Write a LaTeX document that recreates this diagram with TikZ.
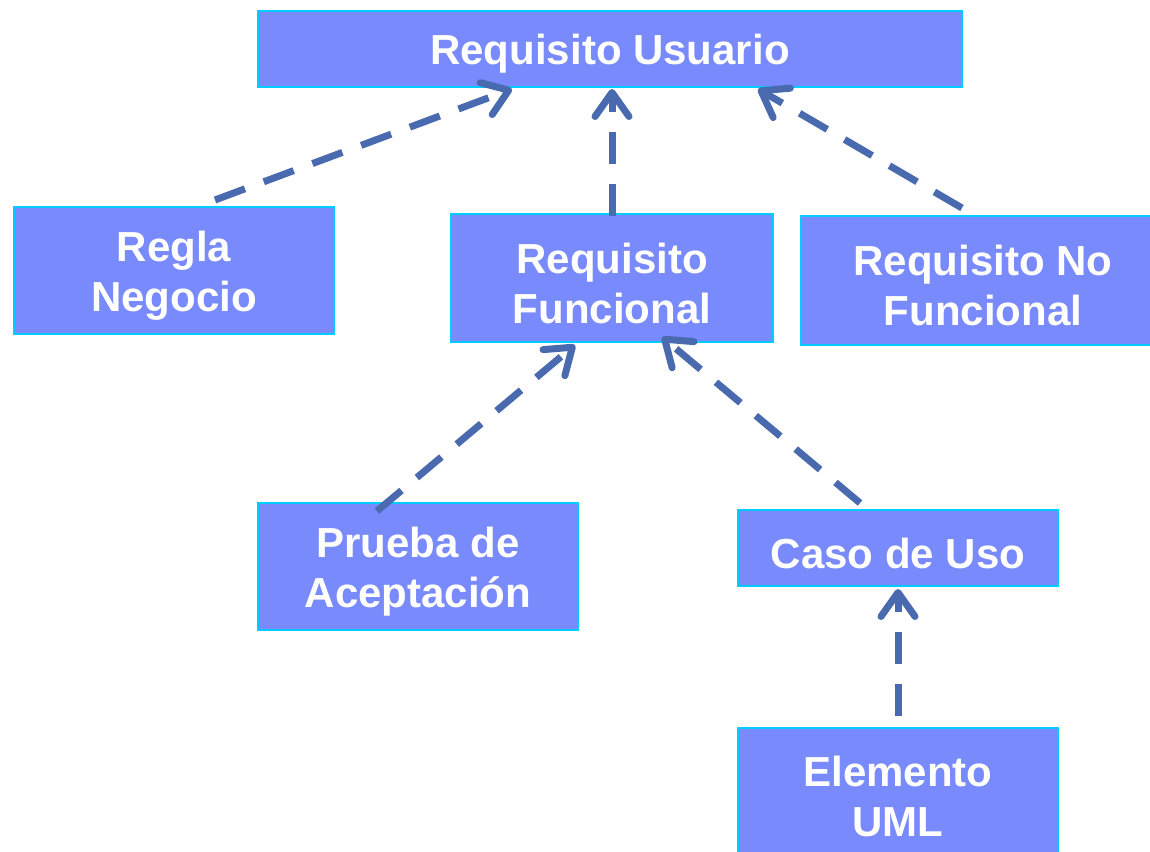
\documentclass[tikz,border=0pt]{standalone}
\usepackage{fontspec}
\setmainfont{Liberation Sans}
\usetikzlibrary{arrows.meta}
\definecolor{boxfill}{RGB}{120,138,252}
\definecolor{boxline}{RGB}{0,204,255}
\definecolor{arrowc}{RGB}{74,106,176}
\begin{document}
\begin{tikzpicture}[x=1pt,y=-1pt,
  box/.style={draw=boxline,line width=2pt,fill=boxfill,inner sep=0pt},
  lbl/.style={text=white,font=\fontsize{42}{50}\selectfont\bfseries,
    align=center,inner sep=0pt,yshift=-5pt},
  dep/.style={draw=arrowc,line width=7pt,dash pattern=on 32pt off 20pt,
    -{Straight Barb[length=24pt,width=34pt,round]}}]
\useasboundingbox (0,0) rectangle (1150,851);
\node[box,minimum width=704pt,minimum height=76pt] (ru) at (610,49) {};
\node[box,minimum width=320pt,minimum height=127pt] (rn) at (174,270.5) {};
\node[box,minimum width=322pt,minimum height=128pt] (rf) at (612,278) {};
\node[box,minimum width=364pt,minimum height=129pt] (rnf) at (983,280.5) {};
\node[box,minimum width=320pt,minimum height=127pt] (pa) at (418,566.5) {};
\node[box,minimum width=320pt,minimum height=76pt] (cu) at (898,548) {};
\node[box,minimum width=320pt,minimum height=127pt] (uml) at (898,791.5) {};
\node[lbl] (ru-t) at (ru.center) {Requisito Usuario};
\node[lbl] (rn-t) at (rn.center) {Regla\\Negocio};
\node[lbl] (rf-t) at (rf.center) {Requisito\\Funcional};
\node[lbl] (rnf-t) at (rnf.center) {Requisito No\\Funcional};
\node[lbl] (pa-t) at (pa.center) {Prueba de\\Aceptación};
\node[lbl] (cu-t) at (cu.center) {Caso de Uso};
\node[lbl] (uml-t) at (uml.center) {Elemento\\UML};
\coordinate (s1) at (215,200); \coordinate (e1) at (512,89);
\coordinate (s2) at (612,216); \coordinate (e2) at (612,89);
\coordinate (s3) at (962,208); \coordinate (e3) at (758,89);
\coordinate (s4) at (377,511); \coordinate (e4) at (575,345);
\coordinate (s5) at (860,503); \coordinate (e5) at (662,337);
\coordinate (s6) at (898,716); \coordinate (e6) at (898,589);
\draw[dep] (s1) -- (e1);
\draw[dep] (s2) -- (e2);
\draw[dep] (s3) -- (e3);
\draw[dep] (s4) -- (e4);
\draw[dep] (s5) -- (e5);
\draw[dep] (s6) -- (e6);
\end{tikzpicture}
\end{document}
